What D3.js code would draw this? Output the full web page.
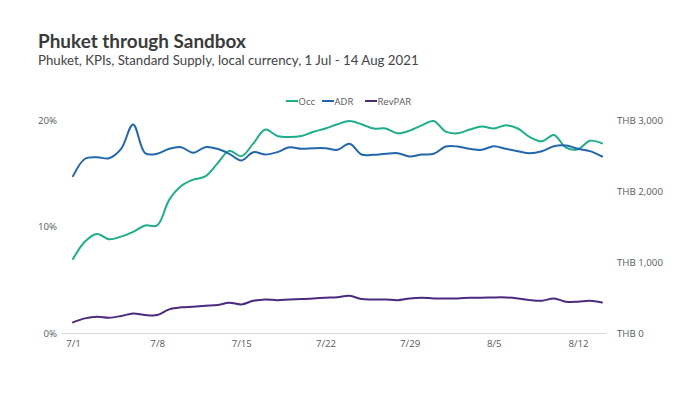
<!DOCTYPE html>
<html><head><meta charset="utf-8">
<script src="https://cdn.jsdelivr.net/npm/d3@7"></script>
<style>
body{margin:0;background:#fff;}
svg{display:block;}
text{font-family:"Open Sans",sans-serif;}
</style></head>
<body><svg id="c" width="700" height="394"></svg>
<script>
const dates = ["7/1","7/2","7/3","7/4","7/5","7/6","7/7","7/8","7/9","7/10","7/11","7/12","7/13","7/14","7/15","7/16","7/17","7/18","7/19","7/20","7/21","7/22","7/23","7/24","7/25","7/26","7/27","7/28","7/29","7/30","7/31","8/1","8/2","8/3","8/4","8/5","8/6","8/7","8/8","8/9","8/10","8/11","8/12","8/13","8/14"];
const occ = [6.95,8.6,9.3,8.8,9.05,9.5,10.1,10.1,12.5,13.8,14.4,14.7,15.9,17.1,16.6,17.8,19.1,18.5,18.4,18.5,18.9,19.2,19.6,19.9,19.6,19.2,19.2,18.75,19.0,19.5,19.9,18.9,18.75,19.1,19.4,19.2,19.5,19.2,18.4,18.0,18.6,17.4,17.25,18.05,17.8];
const adr = [2209,2454,2476,2462,2594,2935,2533,2524,2594,2617,2538,2617,2594,2524,2430,2547,2514,2547,2617,2594,2603,2603,2580,2664,2514,2509,2524,2533,2486,2514,2524,2626,2626,2594,2580,2631,2594,2561,2533,2561,2631,2640,2594,2561,2486];
const revpar = [150,206,229,215,239,276,253,253,333,361,370,385,393,426,403,454,473,463,473,478,487,496,505,524,478,473,473,463,487,496,487,487,487,496,496,501,501,487,463,454,487,440,440,454,431];
const xTicks = ["7/1","7/8","7/15","7/22","7/29","8/5","8/12"];
const leftTicks = [0,10,20];
const rightTicks = [0,1000,2000,3000];
const seriesNames = ["Occ","ADR","RevPAR"];
const colors = ["#1fae8c","#2267ad","#4b2a7f"];

const svg = d3.select("#c");
const x = d3.scalePoint().domain(dates).range([73,602]);
const yL = d3.scaleLinear().domain([0,20]).range([333,120]);
const yR = d3.scaleLinear().domain([0,3000]).range([333,120]);

function fitText(sel, target){
  const w = sel.node().getComputedTextLength();
  const fs = parseFloat(sel.attr("font-size"));
  sel.attr("font-size", (fs*target/w).toFixed(2));
}
const t1 = svg.append("text").attr("x",38).attr("y",48).attr("font-size",18).attr("font-weight",700).attr("fill","#3a3a3a").style("font-family","Lato,sans-serif").text("Phuket through Sandbox");
fitText(t1,208);
const t2 = svg.append("text").attr("x",38).attr("y",65).attr("font-size",13.5).attr("fill","#444").style("font-family","Lato,sans-serif").text("Phuket, KPIs, Standard Supply, local currency, 1 Jul - 14 Aug 2021");
fitText(t2,381);

// baseline
svg.append("line").attr("x1",61).attr("x2",607).attr("y1",333.5).attr("y2",333.5).attr("stroke","#d9d9d9").attr("stroke-width",1);

const axL = d3.axisLeft(yL).tickValues(leftTicks).tickFormat(d=>d+"%").tickSize(0).tickPadding(0);
const gL = svg.append("g").attr("transform","translate(57,0)").call(axL);
const axR = d3.axisRight(yR).tickValues(rightTicks).tickFormat(d=>"THB "+d3.format(",")(d)).tickSize(0).tickPadding(0);
const gR = svg.append("g").attr("transform","translate(617,0)").call(axR);
const axB = d3.axisBottom(x).tickValues(xTicks).tickSize(0).tickPadding(0);
const gB = svg.append("g").attr("transform","translate(0,340)").call(axB);
[gL,gR,gB].forEach(g=>{
  g.select(".domain").remove();
  g.selectAll("text").attr("font-size",9.7).attr("fill","#595959").style("font-family","'Open Sans',sans-serif");
});

const line = (ys,scale)=>d3.line().x((d,i)=>x(dates[i])).y(d=>scale(d)).curve(d3.curveCatmullRom.alpha(0.5))(ys);
const data = [[occ,yL],[adr,yR],[revpar,yR]];
data.forEach(([ys,sc],k)=>{
  svg.append("path").attr("d",line(ys,sc)).attr("fill","none").attr("stroke",colors[k]).attr("stroke-width",2).attr("stroke-linejoin","round").attr("stroke-linecap","round");
});

// legend
const lg = svg.append("g").attr("transform","translate(286,101)");
const lx = [0,36,79];
seriesNames.forEach((n,k)=>{
  const g = lg.append("g").attr("transform",`translate(${lx[k]},0)`);
  g.append("line").attr("x1",0).attr("x2",12).attr("y1",0).attr("y2",0).attr("stroke",colors[k]).attr("stroke-width",2);
  g.append("text").attr("x",12.5).attr("y",3.5).attr("font-size",9.5).attr("fill","#595959").text(n);
});
</script></body></html>
